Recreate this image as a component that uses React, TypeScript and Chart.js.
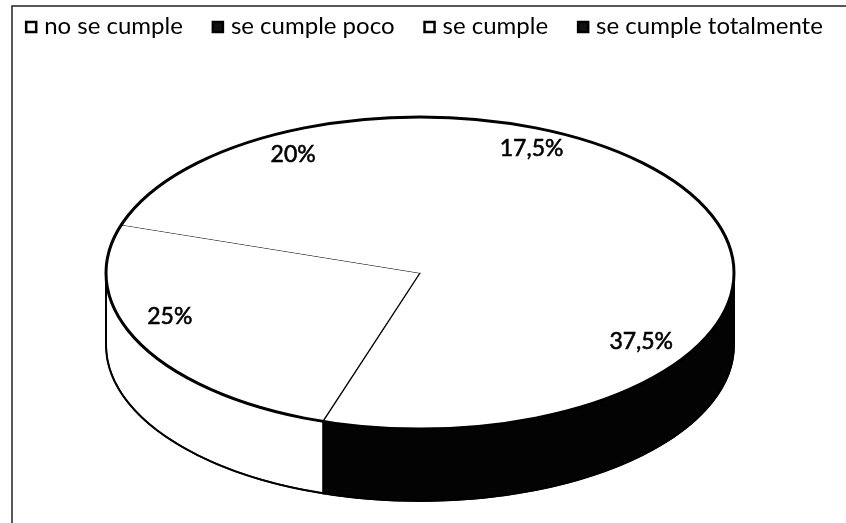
import React, { useEffect, useRef } from 'react';
import { Chart, registerables } from 'chart.js';

Chart.register(...registerables);

// ---- data ----
const categories = ['no se cumple', 'se cumple poco', 'se cumple', 'se cumple totalmente'];
const values = [17.5, 37.5, 25, 20];
const valueLabels = ['17,5%', '37,5%', '25%', '20%'];

// ---- styles ----
const topColors = ['#ffffff', '#ffffff', '#ffffff', '#ffffff'];
const sideColors = ['#ffffff', '#030303', '#ffffff', '#030303'];
const legendFills = ['#ffffff', '#111111', '#ffffff', '#111111'];
const edgeWidths = [0, 0, 1.6, 0];

const W = 846;
const H = 523;
const RADIUS = 314;
const SQUASH = 0.497;
const DEPTH = 72;
const LABEL_R = 0.82;
const LABEL_PERSP = 0.2;
const LABEL_LIFT = -15;
const FONT = 'Lato, "Open Sans", "DejaVu Sans", sans-serif';

const framePlugin = {
  id: 'frame',
  beforeDraw(chart: any) {
    const ctx = chart.ctx;
    ctx.save();
    ctx.strokeStyle = '#222';
    ctx.lineWidth = 1.5;
    ctx.beginPath();
    ctx.moveTo(12, H + 5);
    ctx.lineTo(12, 6);
    ctx.lineTo(W + 5, 6);
    ctx.stroke();
    ctx.restore();
  },
};

const pie3dPlugin = {
  id: 'pie3d',
  beforeDatasetsDraw(chart: any) {
    const ctx = chart.ctx;
    const arcs = chart.getDatasetMeta(0).data as any[];
    if (!arcs.length) return;
    const { x: cx, y: cy, outerRadius: r } = arcs[0].getProps(['x', 'y', 'outerRadius'], true);
    const ry = r * SQUASH;
    ctx.save();
    arcs.forEach((arc: any, i: number) => {
      const { startAngle, endAngle } = arc.getProps(['startAngle', 'endAngle'], true);
      const a = Math.max(startAngle, 0);
      const b = Math.min(endAngle, Math.PI);
      if (b <= a) return;
      ctx.beginPath();
      ctx.ellipse(cx, cy, r, ry, 0, a, b, false);
      ctx.ellipse(cx, cy + DEPTH, r, ry, 0, b, a, true);
      ctx.closePath();
      ctx.fillStyle = sideColors[i];
      ctx.fill();
      ctx.lineWidth = 1.5;
      ctx.strokeStyle = '#000';
      ctx.stroke();
    });
    ctx.restore();
    ctx.save();
    ctx.translate(cx, cy);
    ctx.scale(1, SQUASH);
    ctx.translate(-cx, -cy);
  },
  afterDatasetsDraw(chart: any) {
    const ctx = chart.ctx;
    ctx.restore();
    const arcs = chart.getDatasetMeta(0).data as any[];
    if (!arcs.length) return;
    const { x: cx, y: cy, outerRadius: r } = arcs[0].getProps(['x', 'y', 'outerRadius'], true);
    const ry = r * SQUASH;
    ctx.save();
    ctx.strokeStyle = '#000';
    // lower outline
    ctx.lineWidth = 2;
    ctx.beginPath();
    ctx.moveTo(cx - r, cy);
    ctx.lineTo(cx - r, cy + DEPTH);
    ctx.ellipse(cx, cy + DEPTH, r, ry, 0, Math.PI, 0, true);
    ctx.lineTo(cx + r, cy);
    ctx.stroke();
    // top outline
    ctx.lineWidth = 3;
    ctx.beginPath();
    ctx.ellipse(cx, cy, r, ry, 0, 0, Math.PI * 2);
    ctx.stroke();
    // labels
    ctx.fillStyle = '#000';
    ctx.strokeStyle = '#000';
    ctx.lineWidth = 0.6;
    ctx.font = `23px ${FONT}`;
    ctx.textAlign = 'center';
    ctx.textBaseline = 'middle';
    arcs.forEach((arc: any, i: number) => {
      const { startAngle, endAngle } = arc.getProps(['startAngle', 'endAngle'], true);
      const mid = (startAngle + endAngle) / 2;
      const p = 1 + LABEL_PERSP * Math.sin(mid);
      const x = cx + r * LABEL_R * Math.cos(mid) * p;
      const y = cy + ry * LABEL_R * Math.sin(mid) + LABEL_LIFT;
      ctx.fillText(valueLabels[i], x, y);
      ctx.strokeText(valueLabels[i], x, y);
    });
    ctx.restore();
  },
};

const legendPlugin = {
  id: 'legend3d',
  afterDraw(chart: any) {
    const ctx = chart.ctx;
    ctx.save();
    ctx.font = `24px ${FONT}`;
    const box = 12;
    const gapBox = 7;
    const gapItem = 29;
    const widths = categories.map((c) => ctx.measureText(c).width);
    const total = widths.reduce((s, w) => s + box + gapBox + w, 0) + gapItem * (categories.length - 1);
    let x = chart.width / 2 + 1 - total / 2;
    const yMid = 27;
    ctx.textBaseline = 'middle';
    ctx.textAlign = 'left';
    categories.forEach((c, i) => {
      ctx.fillStyle = legendFills[i];
      ctx.fillRect(x, yMid - box / 2, box, box);
      ctx.lineWidth = 2.5;
      ctx.strokeStyle = '#000';
      ctx.strokeRect(x + 1, yMid - box / 2 + 1, box - 2, box - 2);
      ctx.fillStyle = '#000';
      ctx.fillText(c, x + box + gapBox, yMid - 1);
      x += box + gapBox + widths[i] + gapItem;
    });
    ctx.restore();
  },
};

export default function App() {
  const ref = useRef<HTMLCanvasElement | null>(null);
  useEffect(() => {
    if (!ref.current) return;
    const chart = new Chart(ref.current, {
      type: 'pie',
      data: {
        labels: categories,
        datasets: [
          {
            data: values,
            backgroundColor: topColors,
            borderColor: '#000',
            borderWidth: edgeWidths,
          },
        ],
      },
      options: {
        animation: false,
        responsive: false,
        events: [],
        radius: RADIUS,
        layout: { padding: { top: 45, bottom: 22, left: 0, right: 6 } },
        plugins: {
          legend: { display: false },
          tooltip: { enabled: false },
        },
      } as any,
      plugins: [framePlugin, pie3dPlugin, legendPlugin],
    });
    return () => chart.destroy();
  }, []);
  return (
    <div style={{ position: 'fixed', left: 0, top: 0, width: W, height: H, background: '#fff' }}>
      <canvas ref={ref} width={W} height={H} style={{ display: 'block', width: W, height: H }} />
    </div>
  );
}
